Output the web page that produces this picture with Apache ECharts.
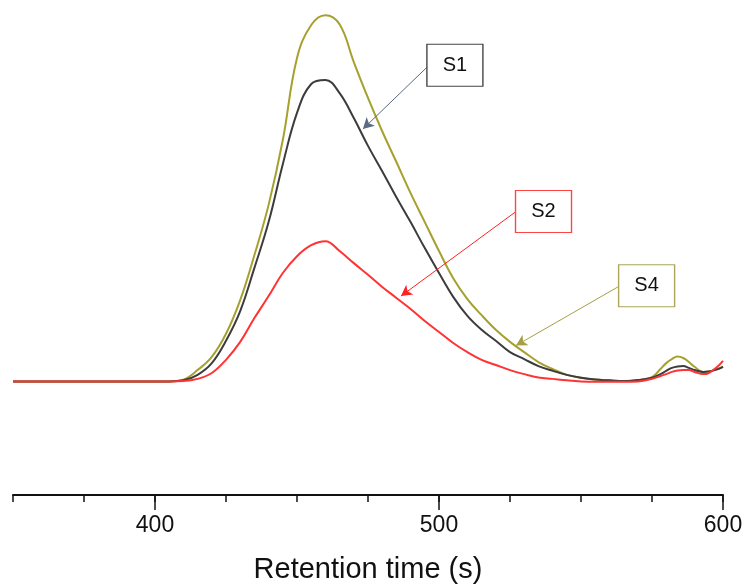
<!DOCTYPE html>
<html>
<head>
<meta charset="utf-8">
<script src="https://cdn.jsdelivr.net/npm/echarts@6/dist/echarts.min.js"></script>
<style>html,body{margin:0;padding:0;background:#fff}#c{width:743px;height:585px}</style>
</head>
<body>
<div id="c"></div>
<script>
// Retention time (s)
var times = [350,360,370,380,390,400,405,410,415,420,425,430,435,440,445,450,455,460,465,470,475,480,485,490,495,500,505,510,515,520,525,530,535,540,545,550,555,560,565,570,575,578,580,582,584,586,588,590,593,595,598,600];
// Signal (relative units)
var s4 = [0,0,0,0,0,0,0,0.5,3.1,6.7,13.0,22.2,34.5,48.2,65.9,88.3,97.3,100,97.5,87.2,77.4,68.3,59.9,51.4,43.5,35.6,28.2,22.5,18.1,14.1,10.8,8.0,5.3,3.4,1.8,1.0,0.5,0.3,0.1,0.3,1.2,3.4,5.0,6.1,6.8,6.4,5.3,4.0,2.6,2.7,3.4,4.0];
var s1 = [0,0,0,0,0,0,0,0.3,1.8,5.0,11.1,19.2,31.0,43.5,59.3,73.3,81.2,82.3,78.7,71.9,64.3,57.4,50.3,43.5,36.4,29.6,23.1,17.9,14.1,11.1,8.0,6.1,4.2,2.9,1.8,1.0,0.5,0.3,0.1,0.4,1.0,2.0,2.9,3.7,4.1,4.2,3.7,3.1,2.6,2.7,3.3,4.0];
var s2 = [0,0,0,0,0,0,0,0.1,0.7,2.3,5.9,10.8,17.3,23.3,29.6,34.2,37.2,38.3,35.6,32.3,29.1,25.8,22.8,19.8,16.5,13.5,10.5,8.0,5.9,4.5,3.1,2.0,1.1,0.7,0.3,0,-0.1,-0.1,-0.1,0,0.7,1.5,2.0,2.6,3.0,3.1,3.1,2.6,2.0,2.3,4.0,5.6];
var xLabels = [400,500,600];
var seriesNames = ['S4','S1','S2'];
// annotation: [label box centre], [arrow start], [arrow end]
var notes = {
  S1: {box:[505.6,86.3], from:[495.8,85.8], to:[473.2,68.9]},
  S2: {box:[536.8,46.4], from:[526.8,46.2], to:[486.6,23.3]},
  S4: {box:[573.1,26.1], from:[563.0,25.8], to:[527.1,9.8]}
};

function pairs(v){ return times.map(function(t,i){ return [t, v[i]]; }); }

var colors = {S4:'#a6a02e', S1:'#3c3c3c', S2:'#ff3333'};
var boxColors = {S4:'#aaa55a', S1:'#444444', S2:'#ff4444'};
var arrowColors = {S4:'#a6a045', S1:'#5a6b82', S2:'#ff2222'};
var dataMap = {S4:s4, S1:s1, S2:s2};

var series = seriesNames.map(function(n){
  var a = notes[n];
  return {
    name:n, type:'line', data:pairs(dataMap[n]), showSymbol:false, smooth:0.4,
    lineStyle:{color:colors[n], width:2}, itemStyle:{color:colors[n]},
    markLine:{silent:true, symbol:['none','arrow'], symbolSize:[9,11], animation:false,
      label:{show:false}, lineStyle:{color:arrowColors[n], width:1, type:'solid'},
      data:[[{coord:a.from},{coord:a.to}]]},
    markPoint:{silent:true, animation:false, symbol:'rect', symbolSize:[56,42],
      itemStyle:{color:'#fff', borderColor:boxColors[n], borderWidth:1.2},
      label:{show:true, position:'inside', formatter:n, color:'#111', fontSize:20, fontFamily:'Liberation Sans'},
      data:[{coord:a.box}]}
  };
});

var chart = echarts.init(document.getElementById('c'), null, {renderer:'canvas'});
chart.setOption({
  animation:false,
  backgroundColor:'#fff',
  grid:{left:13, right:20, top:10, bottom:90, containLabel:false, outerBoundsMode:'none'},
  xAxis:{
    type:'value', min:350, max:600, interval:25, position:'bottom',
    name:'Retention time (s)', nameLocation:'middle', nameGap:60,
    nameTextStyle:{fontSize:29, color:'#111', fontFamily:'Liberation Sans'},
    axisLine:{show:true, onZero:false, lineStyle:{color:'#111', width:2}},
    axisTick:{show:true, length:7, lineStyle:{color:'#111', width:1.5}},
    minorTick:{show:false},
    axisLabel:{show:true, formatter:function(v){return xLabels.indexOf(v)>=0 ? String(v) : '';}, fontSize:23, color:'#111', margin:19, fontFamily:'Liberation Sans'},
    splitLine:{show:false}
  },
  yAxis:{type:'value', min:-31, max:101.4, show:false},
  series:series
});
// longer major ticks: read positions through the chart's own x scale
var zr = chart.getZr();
xLabels.forEach(function(v){
  var p = chart.convertToPixel({xAxisIndex:0, yAxisIndex:0}, [v, -31]);
  zr.add(new echarts.graphic.Line({shape:{x1:p[0], y1:p[1], x2:p[0], y2:p[1]+15}, style:{stroke:'#111', lineWidth:1.5}, z:100}));
});
</script>
</body>
</html>
